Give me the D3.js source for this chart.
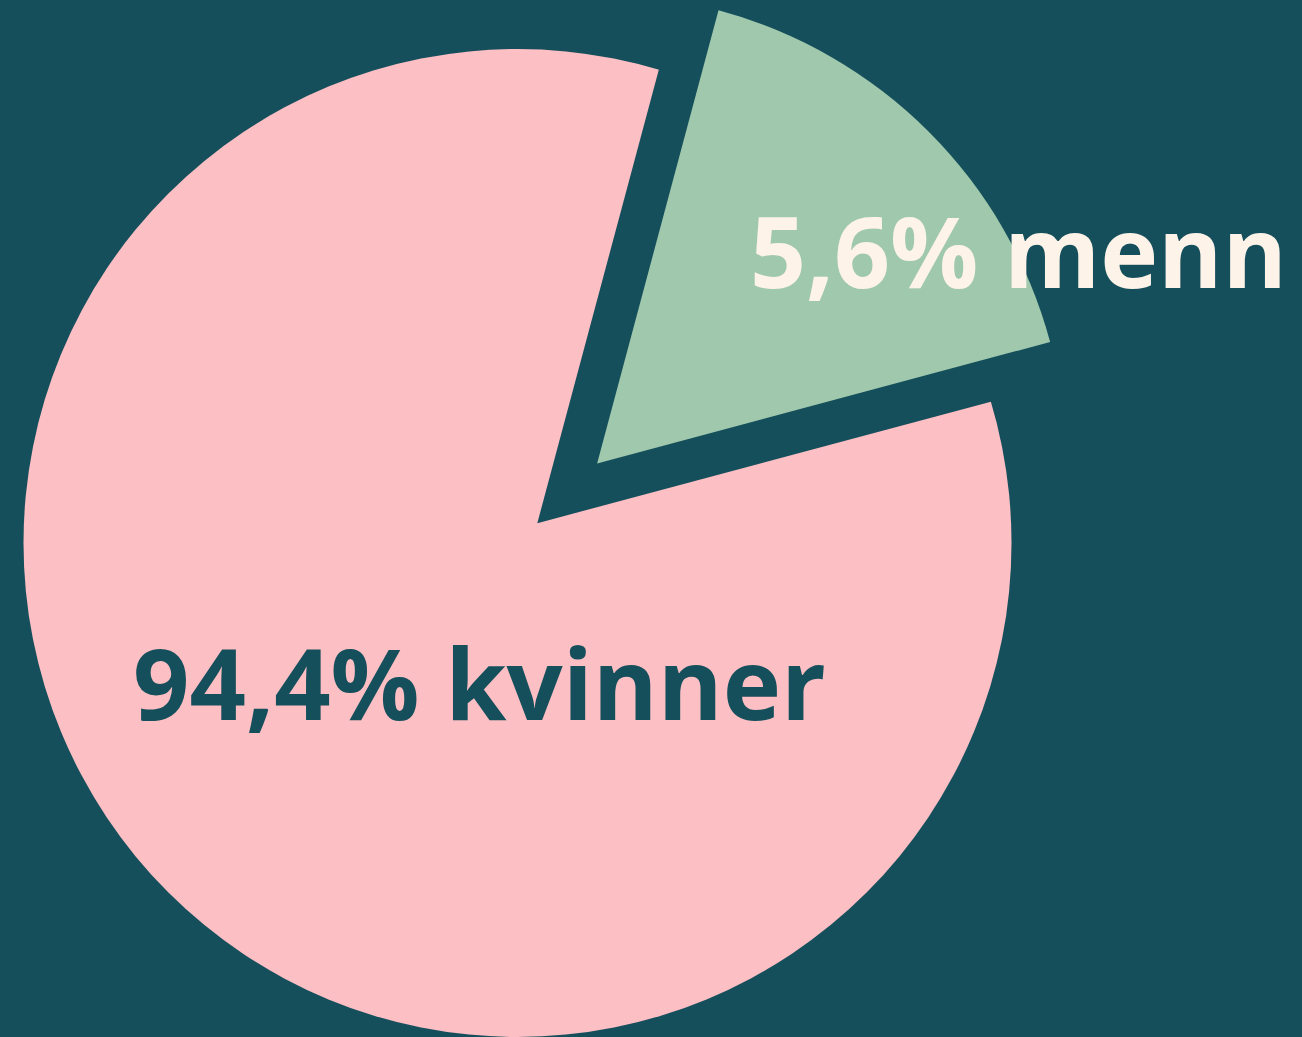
<!DOCTYPE html>
<html>
<head>
<meta charset="utf-8">
<script src="https://cdn.jsdelivr.net/npm/d3@7"></script>
<style>
  html, body { margin: 0; padding: 0; background: #164f5c; }
  svg { display: block; }
</style>
</head>
<body>
<div id="chart"></div>
<script>
// data
const categories = ["kvinner", "menn"];
const percents = [94.4, 5.6];
// slice angles as they are drawn in the picture (degrees)
const drawnDegrees = [300, 60];

const colors = ["#fcbfc4", "#a0c8ac"];
const labelColors = ["#164f5c", "#fdf3e8"];
const bg = "#164f5c";

const width = 1302, height = 1037;
const cx = 517.5, cy = 543, radius = 494;
const gapOffset = 28, explodeOffset = 112.6, explodeRadius = 469;

const svg = d3
  .select("#chart")
  .append("svg")
  .attr("width", width)
  .attr("height", height);

svg.append("rect").attr("width", width).attr("height", height).attr("fill", bg);

const g = svg.append("g").attr("transform", "translate(" + cx + "," + cy + ")");

const deg = Math.PI / 180;
const pie = d3
  .pie()
  .sort(null)
  .value(function (d, i) { return drawnDegrees[i]; })
  .startAngle(75 * deg)
  .endAngle(435 * deg);

const arcs = pie(categories);

const offsetOf = function (d, dist) {
  const mid = (d.startAngle + d.endAngle) / 2;
  return [dist * Math.sin(mid), -dist * Math.cos(mid)];
};

// big slice: whole disc, the cut-out is painted over it
const fullArc = d3.arc().innerRadius(0).outerRadius(radius);
g.append("path")
  .attr("d", fullArc({ startAngle: 0, endAngle: 2 * Math.PI }))
  .attr("fill", colors[0]);

// gap wedge
const gapArc = d3.arc().innerRadius(0).outerRadius(radius + 80);
const gOff = offsetOf(arcs[1], gapOffset);
g.append("path")
  .attr("d", gapArc(arcs[1]))
  .attr("transform", "translate(" + gOff[0] + "," + gOff[1] + ")")
  .attr("fill", bg);

// exploded small slice
const smallArc = d3.arc().innerRadius(0).outerRadius(explodeRadius);
const eOff = offsetOf(arcs[1], explodeOffset);
g.append("path")
  .attr("d", smallArc(arcs[1]))
  .attr("transform", "translate(" + eOff[0] + "," + eOff[1] + ")")
  .attr("fill", colors[1]);

// labels
const fmt = function (v) { return d3.format(".1f")(v).replace(".", ","); };
const labelPos = [
  { x: 133, y: 720, w: 693 },
  { x: 750, y: 288, w: 537 },
];

categories.forEach(function (c, i) {
  const t = svg
    .append("text")
    .attr("x", labelPos[i].x)
    .attr("y", labelPos[i].y)
    .attr("fill", labelColors[i])
    .attr("font-family", "'Open Sans', 'DejaVu Sans', sans-serif")
    .attr("font-weight", 700)
    .attr("font-size", 100)
    .text(fmt(percents[i]) + "% " + c);
  const len = t.node().getComputedTextLength();
  t.attr("font-size", 100 * labelPos[i].w / len);
});
</script>
</body>
</html>
